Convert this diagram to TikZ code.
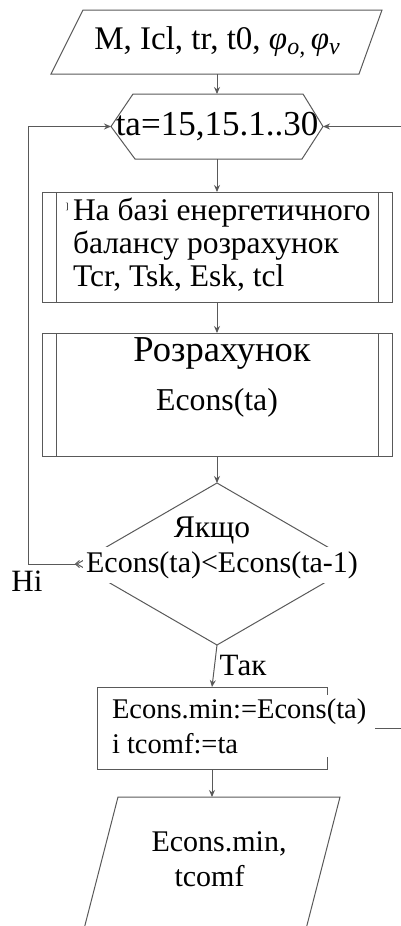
\documentclass[tikz,border=0pt]{standalone}
\usepackage{fontspec}
\setmainfont{Liberation Serif}
\usetikzlibrary{arrows.meta}
\newcommand{\lowsub}[1]{\raisebox{-5pt}{\fontsize{24}{24}\selectfont\itshape #1}}
\begin{document}
\begin{tikzpicture}[x=1pt,y=-1pt,
  every node/.style={inner sep=0pt, outer sep=0pt},
  line/.style={draw=black!65, line width=1pt},
  tip/.style={-{Stealth[length=7pt,width=6pt]}},
  holder/.style={rectangle, draw=none, inner sep=0pt},
  frame/.style={rectangle, draw=black!65, line width=1pt, inner sep=0pt},
  fA/.style={font=\fontsize{33}{36}\selectfont},
  fB/.style={font=\fontsize{35}{38}\selectfont},
  fC/.style={font=\fontsize{28.5}{33}\selectfont},
  fG/.style={font=\fontsize{31.5}{33}\selectfont},
  fD/.style={font=\fontsize{30}{35}\selectfont},
  fE/.style={font=\fontsize{31}{28}\selectfont},
]
\useasboundingbox (0,0) rectangle (400,926);

% input
\node[holder, fA, minimum width=300pt, minimum height=64pt] (in) at (217,42)
  {M, Icl, tr, t0, {\itshape φ}\lowsub{o,}\,{\itshape φ}\lowsub{v}};
\draw[line] (83,10) -- (382,10) -- (359,74) -- (51,74) -- cycle;

% loop hexagon
\node[holder, fB, minimum width=212pt, minimum height=65pt] (loop) at (217,126.5) {ta=15,15.1..30};
\draw[line] (loop.west) -- ([xshift=22pt]loop.north west) -- ([xshift=-20pt]loop.north east)
  -- (loop.east) -- ([xshift=-21pt]loop.south east) -- ([xshift=24pt]loop.south west) -- cycle;

% box 1
\node[frame, minimum width=350pt, minimum height=110pt] (calc1) at (217,247) {};
\draw[line] ([xshift=14pt]calc1.north west) -- ([xshift=14pt]calc1.south west);
\draw[line] ([xshift=-14pt]calc1.north east) -- ([xshift=-14pt]calc1.south east);
\node[fG, anchor=west, align=left] (t1) at (73,245) {На базі енергетичного\\балансу розрахунок\\Tcr, Tsk, Esk, tcl};
\node[font=\fontsize{9}{9}\selectfont] (mk) at (67,207) {]};

% box 2
\node[frame, minimum width=350pt, minimum height=123pt] (calc2) at (217,394.5) {};
\draw[line] ([xshift=14pt]calc2.north west) -- ([xshift=14pt]calc2.south west);
\draw[line] ([xshift=-14pt]calc2.north east) -- ([xshift=-14pt]calc2.south east);
\node[font=\fontsize{36.5}{38}\selectfont] (t2a) at (222,353) {Розрахунок};
\node[font=\fontsize{31.8}{34}\selectfont] (t2b) at (217,403) {Econs(ta)};

% decision
\node[holder, minimum width=280pt, minimum height=162pt] (cond) at (217,564) {};
\draw[line] (cond.north) -- (cond.east) -- (cond.south) -- (cond.west) -- cycle;
\node[font=\fontsize{31.5}{35}\selectfont, fill=white, inner ysep=2pt] (q1) at (212,530) {Якщо};
\node[fD, fill=white, minimum height=36pt, inner xsep=3pt] (q2) at (222,565) {Econs(ta)<Econs(ta-1)};

% assignment box
\node[frame, minimum width=230pt, minimum height=82pt] (assign) at (212,728) {};
\node[fC, fill=white, anchor=west, align=left, minimum height=62pt, inner xsep=5pt] (set) at (107,726)
  {Econs.min:=Econs(ta)\\[2pt]і tcomf:=ta};

% output
\node[holder, fD, align=left, minimum height=124pt] (out) at (219,859) {Econs.min,\\\hspace*{23pt}tcomf};
\draw[line] (78.6,950) -- (118,797) -- (340,797) -- (300.6,950);
\coordinate (outTop) at (212,797);

% labels
\node[fE] (yes) at (243,665) {Так};
\node[fE] (no) at (27,581) {Ні};

% connectors
\draw[line, tip] (in.south) -- (loop.north);
\draw[line, tip] (loop.south) -- (calc1.north);
\draw[line, tip] (calc1.south) -- (calc2.north);
\draw[line, tip] (calc2.south) -- (cond.north);
\draw[line, tip] (cond.south) -- (assign.north);
\draw[line, tip] (assign.south) -- (outTop);
\draw[line, arrows={{Straight Barb[reversed,length=4pt,width=7pt]}-{Stealth[length=7pt,width=6pt]}}]
  ([xshift=3pt]cond.west) -- (28,564) |- (loop.west);
\coordinate (setR) at (375,728);
\draw[line, tip] (setR) -- (430,728) |- (loop.east);
\end{tikzpicture}
\end{document}
